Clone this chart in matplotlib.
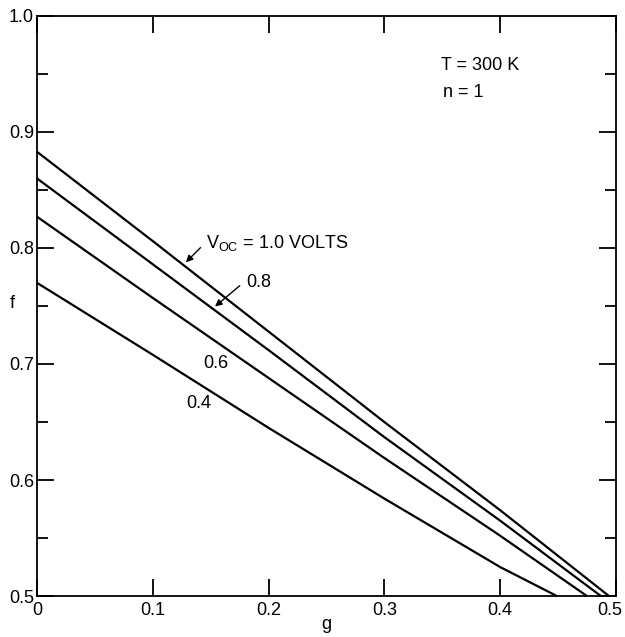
import matplotlib
matplotlib.use("Agg")
import matplotlib.pyplot as plt
import matplotlib.transforms as mtransforms
import numpy as np

plt.rcParams['font.family'] = ['Liberation Sans', 'DejaVu Sans']

# fill factor f against normalised series resistance g, one curve per Voc
g_pts = [0.0, 0.1, 0.2, 0.3, 0.4]
f_10 = [0.883, 0.806, 0.728, 0.650, 0.574]
f_08 = [0.860, 0.786, 0.712, 0.637, 0.565]
f_06 = [0.827, 0.757, 0.688, 0.619, 0.552]
f_04 = [0.770, 0.708, 0.645, 0.584, 0.525]
# where each curve meets f = 0.5
g_end = [0.494, 0.487, 0.475, 0.449]

curves = [f_10, f_08, f_06, f_04]

fig = plt.figure(figsize=(6.25, 6.37), dpi=100)
ax = fig.add_axes([0.059, 0.0643, 0.9265, 0.9107])

for f, ge in zip(curves, g_end):
	ax.plot(g_pts + [ge], f + [0.5], color='black', linewidth=1.6,
		solid_capstyle='butt', solid_joinstyle='round', clip_on=False)

ax.set_xlim(0, 0.5)
ax.set_ylim(0.5, 1.0)
ax.set_xticks(np.arange(0, 0.51, 0.1))
ax.set_xticklabels(['0', '0.1', '0.2', '0.3', '0.4', '0.5'])
ax.set_yticks(np.arange(0.5, 1.01, 0.1))
ax.set_yticklabels(['0.5', '0.6', '0.7', '0.8', '0.9', '1.0'])
ax.set_yticks(np.arange(0.55, 1.0, 0.1), minor=True)

ax.tick_params(which='both', direction='in', top=True, right=True,
	width=1.3, labelsize=13)
ax.tick_params(which='major', length=12, pad=4)
ax.tick_params(which='minor', length=8)
ax.tick_params(axis='y', pad=2)
for s in ax.spines.values():
	s.set_linewidth(1.3)

# pull the last g label in so it stays on the sheet
last = ax.get_xticklabels()[-1]
last.set_transform(last.get_transform() +
	mtransforms.ScaledTranslation(-6 / 100, 0, fig.dpi_scale_trans))

ax.set_xlabel('g', fontsize=13, labelpad=-2)
ax.set_ylabel('f', fontsize=13, rotation=0)
ax.yaxis.set_label_coords(-0.042, 0.49)

ax.text(0.349, 0.957, 'T = 300 K', fontsize=13, va='center')
ax.text(0.351, 0.934, 'n = 1', fontsize=13, va='center')

ax.text(0.146, 0.804, r'V$_{\mathregular{OC}}$ = 1.0 VOLTS', fontsize=13, va='center')
ax.annotate('', xy=(0.127, 0.786), xytext=(0.143, 0.802),
	arrowprops=dict(arrowstyle='-|>', color='black', lw=1.0, mutation_scale=10))
ax.text(0.181, 0.770, '0.8', fontsize=13, va='center')
ax.annotate('', xy=(0.152, 0.748), xytext=(0.177, 0.769),
	arrowprops=dict(arrowstyle='-|>', color='black', lw=1.0, mutation_scale=10))
ax.text(0.144, 0.700, '0.6', fontsize=13, va='center')
ax.text(0.129, 0.666, '0.4', fontsize=13, va='center')

fig.savefig('out.png', dpi=100)
